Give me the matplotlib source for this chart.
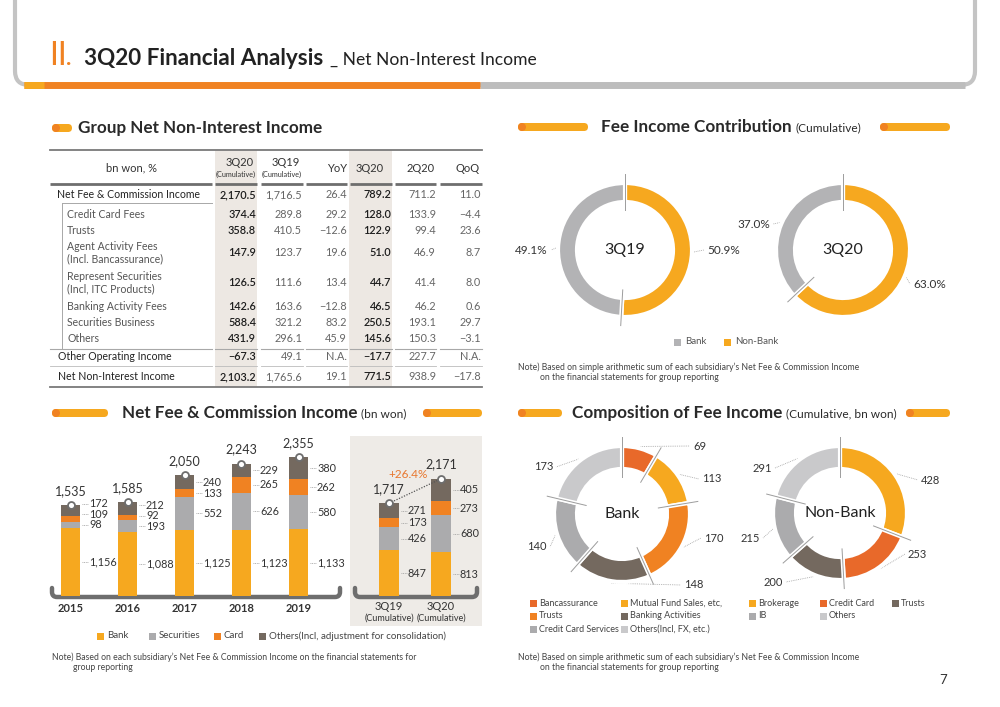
import numpy as np
import matplotlib
matplotlib.use("Agg")
import matplotlib.pyplot as plt
from matplotlib.patches import Rectangle, FancyBboxPatch, Circle
from matplotlib.path import Path
from matplotlib.patches import PathPatch

plt.rcParams['font.family'] = ['Lato', 'DejaVu Sans']

# ---- data ----
years = ["2015", "2016", "2017", "2018", "2019"]
bank = [1156, 1088, 1125, 1123, 1133]
securities = [98, 193, 552, 626, 580]
card = [109, 92, 133, 265, 262]
others = [172, 212, 240, 229, 380]

cum_periods = ["3Q19", "3Q20"]
cum_bank = [847, 813]
cum_sec = [426, 680]
cum_card = [173, 273]
cum_oth = [271, 405]
cum_growth = "+26.4%"

contrib_labels = ["Non-Bank", "Bank"]
contrib_3q19 = [50.9, 49.1]
contrib_3q20 = [63.0, 37.0]

bank_comp_labels = ["Bancassurance", "Mutual Fund Sales, etc,", "Trusts",
                    "Banking Activities", "Credit Card Services", "Others(Incl, FX, etc.)"]
bank_comp = [69, 113, 170, 148, 140, 173]
nonbank_comp_labels = ["Brokerage", "Credit Card", "Trusts", "IB", "Others"]
nonbank_comp = [428, 253, 200, 215, 291]

row_labels = ["Net Fee & Commission Income", "Credit Card Fees", "Trusts",
              "Agent Activity Fees\n(Incl. Bancassurance)",
              "Represent Securities\n(Incl, ITC Products)",
              "Banking Activity Fees", "Securities Business", "Others",
              "Other Operating Income", "Net Non-Interest Income"]
col_3q20_cum = ["2,170.5", "374.4", "358.8", "147.9", "126.5", "142.6", "588.4", "431.9", "−67.3", "2,103.2"]
col_3q19_cum = ["1,716.5", "289.8", "410.5", "123.7", "111.6", "163.6", "321.2", "296.1", "49.1", "1,765.6"]
col_yoy = ["26.4", "29.2", "−12.6", "19.6", "13.4", "−12.8", "83.2", "45.9", "N.A.", "19.1"]
col_3q20 = ["789.2", "128.0", "122.9", "51.0", "44.7", "46.5", "250.5", "145.6", "−17.7", "771.5"]
col_2q20 = ["711.2", "133.9", "99.4", "46.9", "41.4", "46.2", "193.1", "150.3", "227.7", "938.9"]
col_qoq = ["11.0", "−4.4", "23.6", "8.7", "8.0", "0.6", "29.7", "−3.1", "N.A.", "−17.8"]

# ---- colours ----
YEL = "#F6A81F"
ORG = "#F08222"
RED = "#E8692A"
DARK = "#74695F"
GRY = "#ABABAD"
LGRY = "#C9C9CB"
CGRY = "#B3B3B5"
TXT = "#333333"

W, H = 1000, 707
fig = plt.figure(figsize=(10, 7.07), dpi=100)
bg = fig.add_axes([0, 0, 1, 1])
bg.set_xlim(0, W)
bg.set_ylim(H, 0)
bg.axis('off')


def px_axes(x0, y0, x1, y1):
    return fig.add_axes([x0 / W, 1 - y1 / H, (x1 - x0) / W, (y1 - y0) / H])


def pill(x0, x1, y, h=8):
    r = h / 2
    bg.add_patch(FancyBboxPatch((x0 + r, y), x1 - x0 - 2 * r, 0,
                                boxstyle=f"round,pad={r}", fc=YEL, ec='none'))
    bg.add_patch(Circle((x0 + r, y), r, fc=ORG, ec='none'))


def section(x, y, title, sub=None):
    t = bg.text(x, y, title, fontsize=12.3, fontweight='bold', color='#2a2a2a', va='center')
    if sub:
        bg.annotate(sub, xy=(1, 0.5), xycoords=t, xytext=(2.5, -0.5), textcoords='offset points',
                    fontsize=8.6, color='#2a2a2a', va='center', ha='left')


def bracket(x0, x1, y, up=9, rad=5):
    verts = [(x0, y - up), (x0, y - rad), (x0, y), (x0 + rad, y),
             (x1 - rad, y), (x1, y), (x1, y - rad), (x1, y - up)]
    codes = [Path.MOVETO, Path.LINETO, Path.CURVE3, Path.CURVE3,
             Path.LINETO, Path.CURVE3, Path.CURVE3, Path.LINETO]
    bg.add_patch(PathPatch(Path(verts, codes), fc='none', ec='#6E6E6E', lw=3.2,
                           capstyle='round', joinstyle='round'))


# ---- header ----
bg.add_patch(FancyBboxPatch((15, -40), 960, 125, boxstyle="round,pad=0,rounding_size=14",
                            fc='none', ec='#C4C4C4', lw=3))
bg.plot([480, 965], [85, 85], color='#BDBDBD', lw=5, solid_capstyle='butt')
bg.plot([24, 480], [85, 85], color=ORG, lw=5, solid_capstyle='butt')
bg.plot([24, 44], [85, 85], color=YEL, lw=5, solid_capstyle='butt')
bg.text(49, 65, "II", color=ORG, fontsize=23, va='baseline', ha='left')
bg.text(66, 65, ".", color=ORG, fontsize=16, fontweight='bold', va='baseline', ha='left')
bg.text(84, 65, "3Q20 Financial Analysis", color='#222222', fontsize=16.2, fontweight='bold', va='baseline')
bg.text(330, 65, "_ Net Non-Interest Income", color='#222222', fontsize=12.6, va='baseline')

# ---- section titles ----
pill(52, 72, 128)
section(78, 128, "Group Net Non-Interest Income")
pill(518, 588, 127)
section(601, 127, "Fee Income Contribution", "(Cumulative)")
pill(880, 950, 127)
pill(52, 108, 413)
section(122, 413, "Net Fee & Commission Income", "(bn won)")
pill(423, 482, 413)
pill(518, 562, 413)
section(572, 413, "Composition of Fee Income", "(Cumulative, bn won)")
pill(906, 950, 413)

# ---- table ----
shade = "#EDE8E3"
for x0, x1 in [(215, 257), (349, 392)]:
    bg.add_patch(Rectangle((x0, 150), x1 - x0, 237, fc=shade, ec='none'))
bg.plot([50, 482], [150, 150], color='#7A7A7A', lw=1.3)
segs = [(50, 212), (215, 257), (261, 303), (306, 347), (350, 392), (395, 436), (440, 482)]
for a, b in segs:
    bg.plot([a, b], [184, 184], color='#6E6E6E', lw=2, solid_capstyle='butt')
    bg.plot([a, b], [349, 349], color='#A8A8A8', lw=0.8)
    bg.plot([a, b], [366, 366], color='#BBBBBB', lw=0.6)
bg.plot([62, 212], [203, 203], color='#A8A8A8', lw=0.7)
bg.plot([62, 62], [203, 349], color='#A8A8A8', lw=0.7)
bg.plot([50, 482], [387, 387], color='#7A7A7A', lw=1.3)

bg.text(132, 168, "bn won, %", fontsize=8, color=TXT, ha='center', va='center')
hdr = [("3Q20", 236, True), ("3Q19", 282, True), ("YoY", 337, False),
       ("3Q20", 370, False), ("2Q20", 421, False), ("QoQ", 468, False)]
for t, x, cumu in hdr:
    if cumu:
        bg.text(x + 4, 162, t, fontsize=8, color=TXT, ha='center', va='center')
        bg.text(x, 174, "(Cumulative)", fontsize=5.2, color=TXT, ha='center', va='center')
    else:
        bg.text(x, 168, t, fontsize=8, color=TXT, ha='center', va='center')

row_y = [195, 214, 230, 253, 283, 307, 322, 338, 357, 377]
row_x = [57, 67, 67, 67, 67, 67, 67, 67, 58, 58]
for lab, y, x in zip(row_labels, row_y, row_x):
    sub = x > 60
    col = '#555555' if sub else '#222222'
    lines = lab.split("\n")
    if len(lines) == 2:
        bg.text(x, y - 6, lines[0], fontsize=7.6, color=col, va='center')
        bg.text(x, y + 6, lines[1], fontsize=7.6, color=col, va='center')
    else:
        bg.text(x, y, lab, fontsize=7.6, color=col, va='center')

cols = [col_3q20_cum, col_3q19_cum, col_yoy, col_3q20, col_2q20, col_qoq]
col_right = [256, 302, 347, 391, 436, 481]
col_bold = [True, False, False, True, False, False]
for vals, xr, bold in zip(cols, col_right, col_bold):
    for v, y in zip(vals, row_y):
        bg.text(xr, y, v, fontsize=7.8, ha='right', va='center',
                color='#1e1e1e' if bold else '#666666', fontweight='semibold' if bold else 'normal')

# ---- stacked bars (annual) ----
BASE, TOP = 596, 436
ax = px_axes(42, TOP, 327, BASE)
scale = 0.059
ax.set_xlim(-0.5, 4.5)
ax.set_ylim(0, (BASE - TOP) / scale)
ax.axis('off')
bw = 19 / 57.0
xs = np.arange(len(years))
series = [bank, securities, card, others]
scol = [YEL, GRY, ORG, DARK]


def stack(ax, xs, series, bw, unit_px, ppu):
    bottoms = np.zeros(len(xs))
    for vals, c in zip(series, scol):
        ax.bar(xs, vals, bw, bottom=bottoms, color=c, edgecolor='none')
        bottoms = bottoms + np.array(vals)
    gap = 10.5 / ppu
    for i, x in enumerate(xs):
        b = 0
        prev = -1e9
        for vals in series:
            v = vals[i]
            yc = max(b + v / 2, prev + gap)
            prev = yc
            x0 = x + bw / 2 + 2 * unit_px
            x1 = x + bw / 2 + 8 * unit_px
            ax.plot([x0, x1], [yc, yc], ls=(0, (1, 1)), color='#9A9A9A', lw=0.6, clip_on=False)
            ax.text(x + bw / 2 + 9 * unit_px, yc, f"{v:,}", fontsize=7.8, color=TXT,
                    va='center', ha='left', clip_on=False)
            b += v
        tot = sum(s[i] for s in series)
        ax.plot([x], [tot], 'o', ms=5, mfc='white', mec='#6E6E6E', mew=1.3, clip_on=False, zorder=5)
        ax.annotate(f"{tot:,}", (x, tot), xytext=(0, 6), textcoords='offset points',
                    ha='center', va='bottom', fontsize=9, color=TXT)
    return bottoms


stack(ax, xs, series, bw, 1 / 57.0, scale)
for x, yl in zip([70.5, 127.5, 184.5, 241.5, 298.5], years):
    bg.text(x, 608, yl, fontsize=8, fontweight='bold', color='#333333', ha='center', va='center')
bracket(52, 340, 597)

# ---- cumulative panel ----
bg.add_patch(Rectangle((350, 436), 132, 190, fc='#EEEBE7', ec='none'))
cscale = 0.054
ax2 = px_axes(363, TOP, 467, BASE)
ax2.set_xlim(-0.5, 1.5)
ax2.set_ylim(0, (BASE - TOP) / cscale)
ax2.axis('off')
cx = np.arange(len(cum_periods))
ctot = stack(ax2, cx, [cum_bank, cum_sec, cum_card, cum_oth], 20 / 52.0, 1 / 52.0, cscale)
ax2.plot(cx, ctot, ls=(0, (1, 1.2)), color='#555555', lw=0.9, zorder=4)
ax2.annotate(cum_growth, (0.5, ctot.mean()), xytext=(-5, 8), textcoords='offset points',
             ha='center', va='bottom', fontsize=8.5, color='#E8772E')
for x, lab in zip([389, 441], cum_periods):
    bg.text(x, 607, lab, fontsize=8, color='#333333', ha='center', va='center')
    bg.text(x, 618, "(Cumulative)", fontsize=6.5, color='#333333', ha='center', va='center')
bracket(355, 477, 597)

# bar legend
for x, c, t in [(100, YEL, "Bank"), (152, GRY, "Securities"), (217, ORG, "Card"),
                (262, DARK, "Others(Incl, adjustment for consolidation)")]:
    bg.add_patch(Rectangle((x - 3.5, 632.5), 7, 7, fc=c, ec='none'))
    bg.text(x + 7, 636, t, fontsize=7, color='#444444', va='center')
bg.text(52, 657, "Note) Based on each subsidiary’s Net Fee & Commission Income on the financial statements for",
        fontsize=6.2, color='#444444', va='center')
bg.text(73, 667, "group reporting", fontsize=6.2, color='#444444', va='center')


# ---- donuts ----
def donut(cx, cy, r_out, width, values, colors, box=115):
    a = px_axes(cx - box, cy - box, cx + box, cy + box)
    s = box / r_out
    a.pie(values, colors=colors, startangle=90, counterclock=False, radius=1,
          wedgeprops=dict(width=width / r_out, edgecolor='white', linewidth=3))
    a.set_xlim(-s, s)
    a.set_ylim(-s, s)
    a.set_aspect('equal')
    a.axis('off')
    fr = np.cumsum([0] + list(values)) / float(sum(values))
    r0, r1 = 1 - width / r_out - 0.12, 1.13
    for f in fr[:-1]:
        ang = np.deg2rad(90 - 360 * f)
        a.plot([r0 * np.cos(ang), r1 * np.cos(ang)], [r0 * np.sin(ang), r1 * np.sin(ang)],
               color='#9C9C9C', lw=0.7)
    mids = []
    for i in range(len(values)):
        m = (fr[i] + fr[i + 1]) / 2
        mids.append(np.deg2rad(90 - 360 * m))
    return a, mids


def label(cx, cy, r, ang, tx, ty, text, ha, fs=8):
    px0 = cx + (r + 2) * np.cos(ang)
    py0 = cy - (r + 2) * np.sin(ang)
    ex = tx - 3 if ha == 'left' else tx + 3
    bg.plot([px0, ex], [py0, ty], ls=(0, (1, 1.2)), color='#A0A0A0', lw=0.6)
    bg.text(tx, ty, text, fontsize=fs, ha=ha, va='center', color=TXT)


# contribution donuts
for (ccx, ccy), vals, title, pos in [
        ((625, 250), contrib_3q19, "3Q19", [(707, 250, 'left'), (548, 250, 'right')]),
        ((843, 250), contrib_3q20, "3Q20", [(913, 284, 'left'), (770, 224, 'right')])]:
    a, mids = donut(ccx, ccy, 67, 19, vals, [YEL, CGRY])
    bg.text(ccx, ccy, title, fontsize=11.5, ha='center', va='center', color='#222222')
    for v, m, (tx, ty, ha) in zip(vals, mids, pos):
        label(ccx, ccy, 67, m, tx, ty, f"{v:.1f}%", ha, fs=8.5)

for x, c, t in [(677, CGRY, "Bank"), (727, YEL, "Non-Bank")]:
    bg.add_patch(Rectangle((x - 3.5, 338.5), 7, 7, fc=c, ec='none'))
    bg.text(x + 8, 342, t, fontsize=7, color='#555555', va='center')
bg.text(518, 367, "Note) Based on simple arithmetic sum of each subsidiary’s Net Fee & Commission Income",
        fontsize=6.2, color='#444444', va='center')
bg.text(540, 378, "on the financial statements for group reporting", fontsize=6.2, color='#444444', va='center')

# composition donuts
bank_cols = [RED, YEL, ORG, DARK, GRY, LGRY]
a, mids = donut(622, 514, 68, 23, bank_comp, bank_cols)
bg.text(622, 514, "Bank", fontsize=11.5, ha='center', va='center', color='#222222')
bank_pos = [(693, 446, 'left'), (702, 479, 'left'), (704, 538, 'left'),
            (684, 585, 'left'), (547, 547, 'right'), (553, 467, 'right')]
for v, m, (tx, ty, ha) in zip(bank_comp, mids, bank_pos):
    label(622, 514, 68, m, tx, ty, str(v), ha)

nb_cols = [YEL, RED, DARK, GRY, LGRY]
a, mids = donut(840, 513, 67, 23, nonbank_comp, nb_cols)
bg.text(840, 513, "Non-Bank", fontsize=11.5, ha='center', va='center', color='#222222')
nb_pos = [(921, 480, 'left'), (908, 554, 'left'), (783, 582, 'right'),
          (760, 538, 'right'), (772, 468, 'right')]
for v, m, (tx, ty, ha) in zip(nonbank_comp, mids, nb_pos):
    label(840, 513, 67, m, tx, ty, str(v), ha)

leg = [(533, 603, RED, bank_comp_labels[0]), (624, 603, YEL, bank_comp_labels[1]),
       (533, 616, ORG, bank_comp_labels[2]), (624, 616, DARK, bank_comp_labels[3]),
       (533, 629, GRY, bank_comp_labels[4]), (624, 629, LGRY, bank_comp_labels[5]),
       (752, 603, YEL, nonbank_comp_labels[0]), (823, 603, RED, nonbank_comp_labels[1]),
       (895, 603, DARK, nonbank_comp_labels[2]), (752, 616, GRY, nonbank_comp_labels[3]),
       (823, 616, LGRY, nonbank_comp_labels[4])]
for x, y, c, t in leg:
    bg.add_patch(Rectangle((x - 3.5, y - 3.5), 7, 7, fc=c, ec='none'))
    bg.text(x + 6, y, t, fontsize=6.5, color='#444444', va='center')
bg.text(518, 657, "Note) Based on simple arithmetic sum of each subsidiary’s Net Fee & Commission Income",
        fontsize=6.2, color='#444444', va='center')
bg.text(540, 668, "on the financial statements for group reporting", fontsize=6.2, color='#444444', va='center')

bg.text(943, 680, "7", fontsize=9.5, color='#333333', ha='center', va='center')

fig.savefig("out.png", dpi=100, facecolor='white')
